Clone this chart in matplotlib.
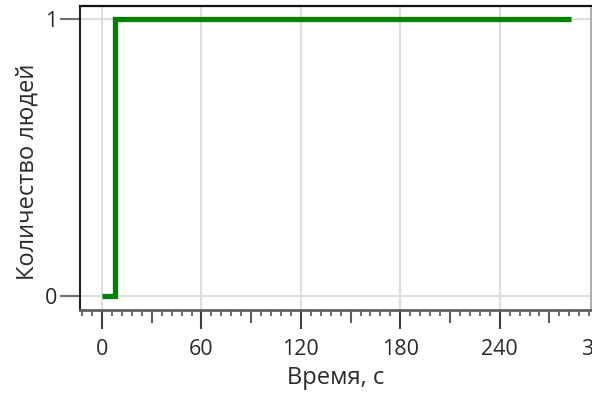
import matplotlib
matplotlib.use("Agg")
import matplotlib.pyplot as plt
from matplotlib.ticker import FixedLocator, MultipleLocator

plt.rcParams['font.family'] = ['Open Sans', 'DejaVu Sans']

# Data
time_s = [0, 8, 283]
people = [0, 1, 1]
x_major = [0, 60, 120, 180, 240, 300]
x_mid = [30, 90, 150, 210, 270]
y_ticks = [0, 1]
xlabel = "Время, с"
ylabel = "Количество людей"

fig = plt.figure(figsize=(5.92, 4.05), dpi=100)
W, H = 592, 405
ax = fig.add_axes([80 / W, 95 / H, 511 / W, 304 / H])

ax.plot(time_s, people, drawstyle='steps-post', color='#008000', lw=3.8,
        solid_joinstyle='miter', solid_capstyle='butt', zorder=3)

xmin, xmax = -13.3, 295.1
ax.set_xlim(xmin, xmax)
ax.set_ylim(-0.0505, 1.047)

ax.xaxis.set_major_locator(FixedLocator(x_major))
ax.xaxis.set_minor_locator(MultipleLocator(6))
ax.yaxis.set_major_locator(FixedLocator(y_ticks))
ax.set_xticklabels([str(v) for v in x_major])
ax.set_yticklabels([str(v) for v in y_ticks])

txt_col = '#2a2a2a'
fs_tick = 15.5
ax.tick_params(axis='x', which='major', length=14, width=1.5, color='#404040',
               labelsize=fs_tick, pad=7, labelcolor=txt_col)
ax.tick_params(axis='x', which='minor', length=4, width=1.3, color='#606060')
ax.tick_params(axis='y', which='major', length=14.5, width=1.5, color='#707070',
               labelsize=fs_tick, pad=2, labelcolor=txt_col)

# tick labels whose ticks fall just past the right edge (partially visible)
for v in x_major:
    if v > xmax:
        ax.annotate(str(v), xy=(v, 0), xycoords=('data', 'axes fraction'),
                    xytext=(0, -(14 + 7)), textcoords='offset points',
                    ha='center', va='top', fontsize=fs_tick, color=txt_col,
                    annotation_clip=False)

sec = ax.secondary_xaxis('bottom')
sec.xaxis.set_major_locator(FixedLocator(x_mid))
sec.tick_params(axis='x', length=9, width=1.5, color='#606060', labelbottom=False)
sec.spines['bottom'].set_visible(False)

ax.grid(True, which='major', color='#dedede', lw=1.5, zorder=0)

ax.spines['top'].set_color('#111111')
ax.spines['top'].set_linewidth(1.6)
ax.spines['left'].set_color('#222222')
ax.spines['left'].set_linewidth(1.5)
ax.spines['right'].set_color('#a0a0a0')
ax.spines['right'].set_linewidth(1.2)
ax.spines['bottom'].set_color('#606060')
ax.spines['bottom'].set_linewidth(2.0)

ax.set_xlabel(xlabel, fontsize=17, color=txt_col)
ax.set_ylabel(ylabel, fontsize=17, color=txt_col)
ax.xaxis.set_label_coords(0.5, -0.225)
ax.yaxis.set_label_coords(-0.102, 0.454)
ax.yaxis.label.set_va('center')
ax.xaxis.label.set_va('center')

fig.savefig("out.png", dpi=100)
